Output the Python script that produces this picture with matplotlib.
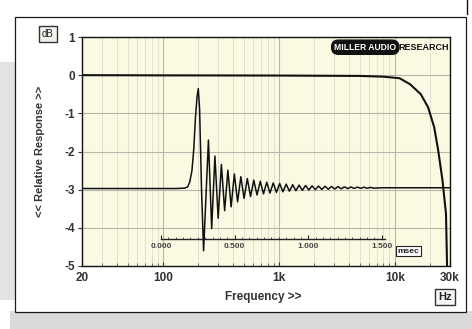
import numpy as np
import matplotlib
matplotlib.use('Agg')
import matplotlib.pyplot as plt
from matplotlib.patches import Rectangle
from matplotlib.lines import Line2D
from matplotlib.ticker import FixedLocator, NullFormatter, LogLocator

plt.rcParams['font.family'] = ['Liberation Sans', 'DejaVu Sans']

# ---------------- data ----------------
# frequency response (Hz, dB)
freq_hz = [20, 100, 1000, 5000, 8000, 11000, 13600, 16800, 19400, 21900, 23700, 25800, 27700, 28300]
resp_db = [0.0, -0.005, -0.01, -0.02, -0.04, -0.08, -0.24, -0.50, -0.84, -1.36, -1.96, -2.74, -3.63, -5.0]

# impulse response drawn on the time axis (ms, plotted in dB units)
lead_t = [-0.537, 0.10, 0.16, 0.18, 0.195, 0.21, 0.222, 0.234, 0.245, 0.253, 0.262, 0.275, 0.289]
lead_v = [-2.97, -2.97, -2.96, -2.93, -2.80, -2.50, -1.95, -1.10, -0.55, -0.35, -0.90, -3.00, -4.60]
ring_peak_t = [0.322, 0.366, 0.410, 0.454, 0.498, 0.542, 0.586, 0.630, 0.674, 0.718, 0.762, 0.806, 0.850,
               0.894, 0.938, 0.982, 1.026, 1.070, 1.114, 1.158, 1.202, 1.246, 1.290, 1.334, 1.378, 1.422]
ring_peak_v = [-1.70, -2.12, -2.34, -2.49, -2.59, -2.66, -2.71, -2.75, -2.78, -2.805, -2.825, -2.84, -2.855,
               -2.87, -2.88, -2.89, -2.90, -2.905, -2.91, -2.915, -2.92, -2.925, -2.93, -2.933, -2.936, -2.94]
ring_trough_t = [0.344, 0.388, 0.432, 0.476, 0.520, 0.564, 0.608, 0.652, 0.696, 0.740, 0.784, 0.828, 0.872,
                 0.916, 0.960, 1.004, 1.048, 1.092, 1.136, 1.180, 1.224, 1.268, 1.312, 1.356, 1.400, 1.444]
ring_trough_v = [-4.02, -3.75, -3.55, -3.45, -3.32, -3.23, -3.18, -3.14, -3.11, -3.09, -3.07, -3.055, -3.04,
                 -3.028, -3.018, -3.008, -3.00, -2.994, -2.988, -2.983, -2.978, -2.973, -2.969, -2.966, -2.963, -2.96]
tail_t = [1.50, 1.963]
tail_v = [-2.95, -2.95]

x_ticks = [20, 100, 1000, 10000, 30000]
x_labels = ['20', '100', '1k', '10k', '30k']
y_ticks = [1, 0, -1, -2, -3, -4, -5]
y_labels = ['1', '0', '-1', '-2', '-3', '-4', '-5']
t_ticks = [0.0, 0.5, 1.0, 1.5]
t_labels = ['0.000', '0.500', '1.000', '1.500']

# build impulse polyline
imp_t = list(lead_t)
imp_v = list(lead_v)
for pt, pv, tt, tv in zip(ring_peak_t, ring_peak_v, ring_trough_t, ring_trough_v):
    imp_t += [pt, tt]
    imp_v += [pv, tv]
imp_t += tail_t
imp_v += tail_v

# ---------------- figure ----------------
W, H = 472, 329
fig = plt.figure(figsize=(W / 100, H / 100), dpi=100)
fig.patch.set_facecolor('white')

def fx(px):
    return px / W

def fy(py):
    return 1 - py / H

fig.patches.append(Rectangle((0, fy(300)), fx(16), (300 - 62) / H, transform=fig.transFigure,
                             facecolor='#e3e3e3', edgecolor='none', zorder=0))
fig.patches.append(Rectangle((fx(10), 0), fx(462), 18 / H, transform=fig.transFigure,
                             facecolor='#dadada', edgecolor='none', zorder=0))
fig.patches.append(Rectangle((fx(15), fy(312)), fx(451), (312 - 17) / H, transform=fig.transFigure,
                             facecolor='white', edgecolor='#1a1a1a', lw=0.9, zorder=1))
fig.lines.append(Line2D([fx(467), fx(467)], [fy(0), fy(14)], transform=fig.transFigure,
                        color='#111', lw=1.0))

left, right, top, bottom = 82, 450, 37, 266
ax = fig.add_axes([fx(left), fy(bottom), (right - left) / W, (bottom - top) / H])
ax.set_zorder(2)
ax.set_facecolor('#fafae3')
ax.set_xscale('log')
ax.set_xlim(20, 30000)
ax.set_ylim(-5, 1)

ax.xaxis.set_major_locator(FixedLocator(x_ticks))
ax.set_xticklabels(x_labels, fontweight='bold', fontsize=8.5, color='#333')
ax.xaxis.set_minor_locator(LogLocator(base=10, subs=range(2, 10)))
ax.xaxis.set_minor_formatter(NullFormatter())
ax.set_yticks(y_ticks)
ax.set_yticklabels(y_labels, fontweight='bold', fontsize=8.5, color='#333')

ax.grid(which='major', axis='both', color='#b6b6ac', lw=0.8)
ax.grid(which='minor', axis='x', color='#dcdcd0', lw=0.6)
ax.set_axisbelow(True)

ax.tick_params(axis='y', direction='out', length=3, width=0.8, pad=2, color='#333')
ax.tick_params(axis='x', which='major', direction='in', length=3, width=0.8, pad=4, color='#333')
ax.tick_params(axis='x', which='minor', direction='in', length=2, width=0.6, color='#555')
for sp in ax.spines.values():
    sp.set_color('#111')
    sp.set_linewidth(1.0)

ax.plot(freq_hz, resp_db, color='#111', lw=1.5, zorder=3)

# time axis inset
ax2 = ax.twiny()
ax2.set_xlim(-0.537, 1.963)
ax2.patch.set_visible(False)
for name in ['top', 'left', 'right']:
    ax2.spines[name].set_visible(False)
ax2.spines['bottom'].set_position(('data', -4.3))
ax2.spines['bottom'].set_bounds(0, 1.52)
ax2.spines['bottom'].set_color('#222')
ax2.spines['bottom'].set_linewidth(1.0)
ax2.xaxis.set_ticks_position('bottom')
ax2.xaxis.set_label_position('bottom')
ax2.xaxis.set_major_locator(FixedLocator(t_ticks))
ax2.set_xticklabels(t_labels, fontweight='bold', fontsize=6, color='#444')
ax2.xaxis.set_minor_locator(FixedLocator(np.arange(0, 1.5001, 0.05)))
ax2.xaxis.set_minor_formatter(NullFormatter())
ax2.tick_params(axis='x', which='major', direction='in', length=3, width=0.8, pad=3, color='#222')
ax2.tick_params(axis='x', which='minor', direction='in', length=1.8, width=0.6, color='#333')
ax2.plot(imp_t, imp_v, color='#111', lw=1.1, zorder=3)
ax2.text(1.68, -4.62, 'msec', ha='center', va='center', fontsize=6, fontweight='bold', color='#222',
         bbox=dict(boxstyle='square,pad=0.18', fc='white', ec='#222', lw=0.8))

# logo
res = ax.text(0.997, 0.975, 'RESEARCH', transform=ax.transAxes, ha='right', va='top',
              fontsize=6.5, fontweight='bold', color='#111', zorder=5)
ax.annotate('MILLER AUDIO', xy=(0, 0.5), xycoords=res, xytext=(-1.5, 0), textcoords='offset points',
            ha='right', va='center', fontsize=6.2, fontweight='bold', color='white', zorder=5,
            bbox=dict(boxstyle='round,pad=0.3,rounding_size=0.8', fc='#111', ec='#111'))

# labels and unit boxes
fig.text(fx(40), fy(151), '<< Relative Response >>', rotation=90, ha='center', va='center',
         fontsize=8, fontweight='bold', color='#333')
fig.text(fx(263), fy(297), 'Frequency >>', ha='center', va='center',
         fontsize=8.5, fontweight='bold', color='#333')
fig.text(fx(48), fy(34), 'dB', ha='center', va='center', fontsize=7, color='#222',
         bbox=dict(boxstyle='square,pad=0.3', fc='#f3f3ee', ec='#333', lw=1.0))
fig.text(fx(445), fy(297), 'Hz', ha='center', va='center', fontsize=8, fontweight='bold', color='#222',
         bbox=dict(boxstyle='square,pad=0.25', fc='#f6f6f6', ec='#333', lw=1.0))

fig.savefig('out.png', dpi=100, facecolor=fig.get_facecolor())
